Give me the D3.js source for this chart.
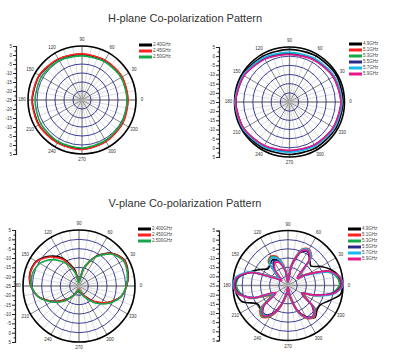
<!DOCTYPE html>
<html>
<head>
<meta charset="utf-8">
<script src="https://cdn.jsdelivr.net/npm/d3@7"></script>
<style>
  body { margin: 0; background: #fff; }
  svg { display: block; font-family: "Liberation Sans", Arial, sans-serif; }
</style>
</head>
<body>
<svg id="chart" width="397" height="358"></svg>
<script>
// ---- data (dB) ----
var angles30 = [0, 30, 60, 90, 120, 150, 180, 210, 240, 270, 300, 330];
var angles15 = [0, 15, 30, 45, 60, 75, 90, 105, 120, 135, 150, 165, 180, 195, 210, 225, 240, 255, 270, 285, 300, 315, 330, 345];
var angles10 = d3.range(0, 360, 10); // tick positions only

var axisLabels = ["5", "0", "-5", "-10", "-15", "-20", "-25", "-20", "-15", "-10", "-5", "0", "5"];
var angleLabels = ["0", "30", "60", "90", "120", "150", "180", "210", "240", "270", "300", "330"];

// H-plane 2.4 GHz band
var h240 = [0.4, 0.6, 0.4, 0.4, 1.2, 2.3, 2.6, 2.6, 2.3, 2.3, 1.5, 0.9];
var h245 = [0.6, 0.8, 0.6, 0.6, 1.4, 2.5, 2.8, 2.8, 2.5, 2.5, 1.7, 1.1];
var h250 = [0.0, 0.1, -0.3, -0.5, 0.3, 1.0, 1.1, 1.4, 1.6, 1.7, 1.0, 0.4];

// H-plane 5 GHz band
var h49 = [4.2, 4.4, 4.0, 3.7, 3.9, 4.6, 4.8, 4.6, 4.0, 3.6, 3.8, 4.0];
var h51 = [3.2, 2.8, 1.8, 1.2, 2.3, 3.8, 4.4, 3.9, 2.7, 1.9, 2.3, 2.8];
var h53 = [3.4, 3.0, 2.1, 1.5, 2.6, 4.0, 4.5, 4.1, 3.0, 2.1, 2.5, 3.0];
var h55 = [3.1, 2.6, 1.7, 1.1, 2.2, 3.7, 4.3, 3.8, 2.6, 1.7, 2.1, 2.7];
var h57 = [3.6, 3.2, 2.5, 2.1, 3.0, 4.2, 4.7, 4.3, 3.2, 2.4, 2.8, 3.3];
var h59 = [3.0, 2.5, 1.5, 0.9, 2.0, 3.6, 4.4, 3.8, 2.4, 1.4, 2.0, 2.6];

// V-plane 2.4 GHz band (15 deg steps)
var v240 = [0.5, 2.2, 3.0, -0.2, -6.5, -15, -22.5, -16, -8, -2.5, 1.5, 2.2, 0.8, -2.5, -8.5, -14.5, -19, -22, -22, -21, -18.5, -13, -7.2, -2];
var v245 = [0.5, 2.0, 2.9, -0.4, -6.8, -15.4, -22.9, -17, -8.9, -3, 1.2, 2.0, 0.7, -2.5, -8.4, -14.3, -19.1, -22.3, -23.4, -21.8, -18.6, -13.2, -7.3, -2];
var v250 = [0.3, 1.8, 2.3, -0.8, -7, -15, -23, -18, -11, -5, -0.8, 0.8, 0.5, -2.5, -8, -13.5, -19, -22, -23, -21, -17.5, -12, -6.5, -2];

// V-plane 5 GHz band (10 deg steps)
var v49 = [4.5, 3.4, 0.1, -4.3, -8.6, -6.5, -3.7, -5.9, -14.1, -21.7, -16.3, -10.8, -8.6, -9.7, -10.8, -7.5, -3.2, 2.3, 3.9, 3.4, 1.2, -5.4, -5.4, -4.3, -7, -13, -19.5, -22.8, -18.5, -10.8, -5.4, -2.1, -4.3, -4.3, -1, 3.9];
var v51 = [3.4, 2.3, -2.1, -11.9, -16.3, -5.4, -2.1, -4.3, -13, -22.3, -15.2, -8.6, -6.5, -8.6, -17.4, -15.2, -3.2, 2.3, 3.4, 1.2, -4.3, -14.1, -5.4, -2.6, -5.4, -11.9, -19.5, -23.4, -18.5, -9.7, -4.3, -2.6, -5.9, -15.2, -8.6, -0.5];
var v53 = [3.0, 2.0, -2.6, -12.5, -16.8, -6, -2.6, -4.8, -13.5, -22.5, -15.8, -9.2, -7, -9.2, -17.8, -15.8, -3.7, 2.0, 3.2, 1.0, -4.8, -14.5, -6, -3.0, -5.9, -12.5, -20, -23.4, -19, -10, -4.5, -2.9, -6.5, -15.8, -9, -0.8];
var v55 = [4.0, 3.0, -2.5, -13.5, -18, -7.2, -3.6, -5.8, -14.5, -23, -17, -11, -9.5, -13, -20, -17, -4.5, 2.3, 4.0, 1.8, -5.8, -17, -8, -4, -6.8, -13.5, -21, -24, -20, -11, -5.2, -3.6, -8, -16.5, -10, -0.4];
var v57 = [5, 3.4, -3.2, -14.1, -17.4, -5.9, -2.6, -4.8, -14.1, -22.8, -16.3, -9.7, -7.5, -9.7, -18.5, -16.3, -3.2, 3.4, 5, 2.3, -5.4, -16.3, -7, -4.3, -6.5, -13, -20.6, -23.4, -19.5, -10.3, -4.8, -3.2, -7, -16.3, -8.6, 0.6];
var v59 = [4.5, 3.4, -2.1, -13, -18.5, -7, -3.2, -5.4, -14.1, -22.8, -17.4, -11.9, -10.8, -14.1, -20.6, -17.4, -4.3, 2.8, 4.5, 2.3, -5.4, -17.4, -7.5, -3.7, -6.5, -13, -20.6, -23.9, -19.5, -10.8, -4.8, -3.2, -7.5, -16.3, -9.7, 0.1];

var colors6 = ["#000000", "#ff2222", "#15a84a", "#2a2a8c", "#1ab8f0", "#e8178a"];
var colors3 = ["#000000", "#ff2222", "#15a84a"];

var svg = d3.select("#chart");

// titles
svg.append("text").attr("x", 185).attr("y", 22).attr("text-anchor", "middle")
  .attr("font-size", "11px").attr("fill", "#333").text("H-plane Co-polarization Pattern");
svg.append("text").attr("x", 185).attr("y", 207).attr("text-anchor", "middle")
  .attr("font-size", "11px").attr("fill", "#333").text("V-plane Co-polarization Pattern");

function drawPanel(p) {
  var g = svg.append("g");
  var r = d3.scaleLinear().domain([-25, 5]).range([0, p.R]).clamp(true);

  // left radial axis
  var y = d3.scaleLinear().domain([0, 12]).range([p.cy - p.R, p.cy + p.R]);
  var ax = g.append("g").attr("transform", "translate(" + p.axisX + ",0)");
  ax.call(d3.axisLeft(y).tickValues(d3.range(0, 12.5, 0.5)).tickSize(2)
      .tickFormat(function(d) { return d % 1 === 0 ? axisLabels[d] : ""; }));
  ax.selectAll(".tick line").attr("stroke", "#222")
    .attr("x2", function(d) { return d % 1 === 0 ? -3 : -1.5; });
  ax.selectAll(".tick text").attr("font-size", "4.5px").attr("fill", "#333").attr("x", -4);
  ax.select(".domain").attr("stroke", "#222").attr("stroke-width", 1.2);

  var c = g.append("g").attr("transform", "translate(" + p.cx + "," + p.cy + ")");

  // spokes
  c.selectAll("line.spoke").data(angles10).enter().append("line")
    .attr("x1", 0).attr("y1", 0)
    .attr("x2", function(d) { return p.R * Math.cos(d * Math.PI / 180); })
    .attr("y2", function(d) { return -p.R * Math.sin(d * Math.PI / 180); })
    .attr("stroke", function(d) { return d % 90 === 0 ? "#8a8a8a" : (d % 30 === 0 ? "#777" : "#c4c4c4"); })
    .attr("stroke-width", function(d) { return d % 90 === 0 ? 1.3 : (d % 30 === 0 ? 0.9 : 0.6); });

  // rings
  c.selectAll("circle.ring").data([0, -5, -10, -15, -20]).enter().append("circle")
    .attr("r", function(d) { return r(d); })
    .attr("fill", "none").attr("stroke", "#2a2a8c").attr("stroke-width", 0.9);
  c.append("circle").attr("r", r(5)).attr("fill", "none").attr("stroke", "#000").attr("stroke-width", 1.6);

  // angle labels
  c.selectAll("text.ang").data(angles30).enter().append("text")
    .attr("x", function(d) { return (p.R + 6) * Math.cos(d * Math.PI / 180); })
    .attr("y", function(d) { return -(p.R + 6) * Math.sin(d * Math.PI / 180); })
    .attr("text-anchor", "middle").attr("dominant-baseline", "middle")
    .attr("font-size", "4.5px").attr("fill", "#333")
    .text(function(d, i) { return angleLabels[i]; });

  // pattern curves
  var line = d3.lineRadial()
    .angle(function(d) { return (90 - d[0]) * Math.PI / 180; })
    .radius(function(d) { return r(d[1]); })
    .curve(d3.curveCardinalClosed.tension(0.2));

  p.series.forEach(function(s, i) {
    var pts = p.angles.map(function(a, j) { return [a, s[j]]; });
    c.append("path").attr("d", line(pts)).attr("fill", "none")
      .attr("stroke", p.colors[i]).attr("stroke-width", 1.6);
  });

  // legend
  var lg = g.append("g");
  p.names.forEach(function(n, i) {
    var yy = p.legY + i * 6;
    lg.append("line").attr("x1", p.legX).attr("x2", p.legX + 13).attr("y1", yy).attr("y2", yy)
      .attr("stroke", p.colors[i]).attr("stroke-width", 3);
    lg.append("text").attr("x", p.legX + 14).attr("y", yy).attr("dominant-baseline", "middle")
      .attr("font-size", "4.5px").attr("fill", "#444").text(n);
  });
}

drawPanel({cx: 82, cy: 100, R: 54, axisX: 16, legX: 139, legY: 45,
  angles: angles30, series: [h240, h245, h250], colors: colors3,
  names: ["2.40GHz", "2.45GHz", "2.50GHz"]});
drawPanel({cx: 289.5, cy: 102, R: 55, axisX: 219, legX: 349, legY: 44,
  angles: angles30, series: [h49, h51, h53, h55, h57, h59], colors: colors6,
  names: ["4.9GHz", "5.1GHz", "5.3GHz", "5.5GHz", "5.7GHz", "5.9GHz"]});
drawPanel({cx: 79, cy: 286, R: 56, axisX: 15, legX: 138, legY: 229,
  angles: angles15, series: [v240, v245, v250], colors: colors3,
  names: ["2.400GHz", "2.450GHz", "2.500GHz"]});
drawPanel({cx: 288, cy: 285.5, R: 55, axisX: 219, legX: 348, legY: 229,
  angles: angles10, series: [v49, v51, v53, v55, v57, v59], colors: colors6,
  names: ["4.9GHz", "5.1GHz", "5.3GHz", "5.5GHz", "5.7GHz", "5.9GHz"]});
</script>
</body>
</html>
